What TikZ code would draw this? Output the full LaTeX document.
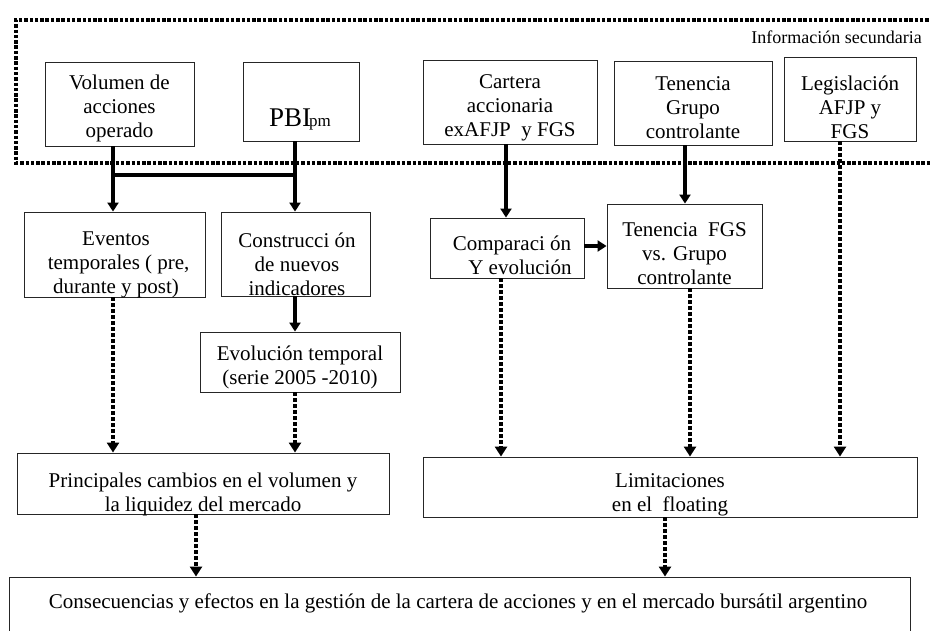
\documentclass[tikz,border=0pt]{standalone}
\usepackage{fontspec}
\setmainfont{Liberation Serif}
\usetikzlibrary{arrows.meta}
\begin{document}
\begin{tikzpicture}[x=1pt,y=-1pt,
  box/.style={draw=black!85, line width=0.9pt, inner sep=0pt},
  txt/.style={align=center, inner sep=0pt, font=\rmfamily\fontsize{21}{24}\selectfont},
  solidarr/.style={line width=3.5pt, -{Triangle[width=11pt,length=9pt]}},
  bar/.style={line width=3.5pt},
  dotarr/.style={line width=4.2pt, dash pattern=on 4pt off 2pt, -{Triangle[width=12pt,length=10pt]}},
  frame/.style={line width=3.8pt, dash pattern=on 3.5pt off 1.8pt}]
\useasboundingbox (0,0) rectangle (930,630);
% frame of secondary information
\coordinate (f1) at (934,20);
\coordinate (f2) at (16,20);
\coordinate (f3) at (16,163);
\coordinate (f4) at (934,163);
\draw[frame] (f1) -- (f2) -- (f3) -- (f4);
\node[anchor=east, inner sep=0pt, font=\rmfamily\fontsize{18}{20}\selectfont] (info) at (922,37) {Información secundaria};
% top row boxes
\node[box, minimum width=149pt, minimum height=84pt] (vol) at (119.5,104) {};
\node[txt] (volt) at (119.5,108) {Volumen de\\acciones\\operado};
\node[box, minimum width=116pt, minimum height=79pt] (pbi) at (301,101.5) {};
\node[inner sep=0pt, anchor=base west] (pbit) at (269,126) {\rmfamily\fontsize{27}{28}\selectfont PBI\kern-2pt{\fontsize{17}{18}\selectfont pm}};
\node[box, minimum width=174pt, minimum height=84pt] (cart) at (510,102) {};
\node[txt] (cartt) at (510,108) {Cartera\\accionaria\\exAFJP\ \ y FGS};
\node[box, minimum width=158pt, minimum height=84pt] (tengr) at (693,103) {};
\node[txt] (tengrt) at (693,108) {Tenencia\\Grupo\\controlante};
\node[box, minimum width=132pt, minimum height=84pt] (leg) at (850,99) {};
\node[txt] (legt) at (850,107) {Legislación\\AFJP y\\FGS};
% middle boxes
\node[box, minimum width=181pt, minimum height=85pt] (evt) at (114.5,254.5) {};
\node[txt] (evtt) at (116,265) {Eventos\\\ temporales ( pre,\\durante y post)};
\node[box, minimum width=149pt, minimum height=84pt] (cons) at (295.5,254) {};
\node[txt] (const) at (297,264) {Construcci ón\\de nuevos\\indicadores};
\node[box, minimum width=200pt, minimum height=60pt] (evo) at (300,362) {};
\node[txt] (evot) at (300,367) {Evolución temporal\\(serie 2005 -2010)};
\node[box, minimum width=154pt, minimum height=60pt] (comp) at (507,248) {};
\node[txt] (compt) at (512,255) {Comparaci ón\\\ \ \ Y evolución};
\node[box, minimum width=155pt, minimum height=84pt] (tfgs) at (684.5,246) {};
\node[txt] (tfgst) at (684.5,254) {Tenencia\ \ FGS\\vs. Grupo\\controlante};
% lower boxes
\node[box, minimum width=372pt, minimum height=61pt] (prin) at (203,483.5) {};
\node[txt] (print) at (203,494) {Principales cambios en el volumen y\\la liquidez del mercado};
\node[box, minimum width=494pt, minimum height=60pt] (lim) at (670,487) {};
\node[txt] (limt) at (670,494.5) {Limitaciones\\en el\ \ floating};
\node[box, minimum width=901pt, minimum height=60pt] (conq) at (459.5,607) {};
\node[txt] (conqt) at (458,603) {Consecuencias y efectos en la gestión de la cartera de acciones y en el mercado bursátil argentino};
% solid connectors
\coordinate (j1) at (113,175);
\coordinate (j2) at (295,175);
\draw[solidarr] (113,0 |- vol.south) -- (113,0 |- evt.north);
\draw[solidarr] (295,0 |- pbi.south) -- (295,0 |- cons.north);
\draw[bar] (j1) -- (j2);
\draw[solidarr] (295,0 |- cons.south) -- (295,0 |- evo.north);
\draw[solidarr] (506,0 |- cart.south) -- (506,0 |- comp.north);
\draw[solidarr] (685,0 |- tengr.south) -- (685,0 |- tfgs.north);
\draw[solidarr] (comp.east |- 0,246) -- (tfgs.west |- 0,246);
% dotted connectors
\draw[dotarr] (840,0 |- leg.south) -- (840,0 |- lim.north);
\draw[dotarr] (501,0 |- comp.south) -- (501,0 |- lim.north);
\draw[dotarr] (690,0 |- tfgs.south) -- (690,0 |- lim.north);
\draw[dotarr] (113,0 |- evt.south) -- (113,0 |- prin.north);
\draw[dotarr] (295,0 |- evo.south) -- (295,0 |- prin.north);
\draw[dotarr] (196,0 |- prin.south) -- (196,0 |- conq.north);
\draw[dotarr] (665,0 |- lim.south) -- (665,0 |- conq.north);
\end{tikzpicture}
\end{document}
